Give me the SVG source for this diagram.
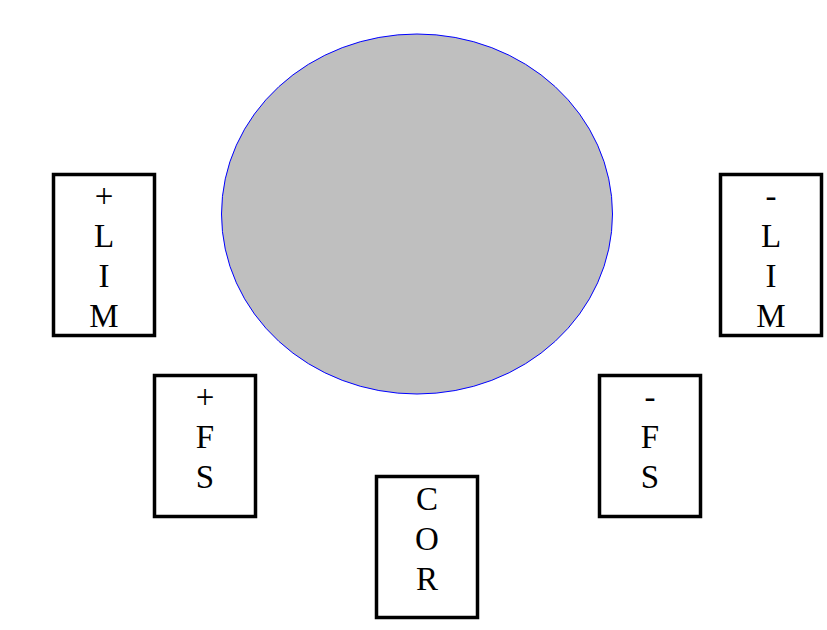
<svg xmlns="http://www.w3.org/2000/svg" width="827" height="630" viewBox="0 0 827 630">
<style>
.box{fill:#fff;stroke:#000;stroke-width:3.5}
.lbl{font-family:"Liberation Serif","Times New Roman",serif;font-size:33px;fill:#000;text-anchor:middle}
</style>
<rect width="827" height="630" fill="#fff"/>
<g id="center">
<ellipse cx="417" cy="214" rx="195.5" ry="180" fill="#bfbfbf" stroke="#0000ff" stroke-width="1"/>
</g>
<g id="connectors"/>
<g id="plus-lim">
<rect class="box" x="53.5" y="174.5" width="101" height="161"/>
<text class="lbl" x="104" y="207"><tspan x="104">+</tspan><tspan x="104" dy="40">L</tspan><tspan x="104" dy="40">I</tspan><tspan x="104" dy="40">M</tspan></text>
</g>
<g id="minus-lim">
<rect class="box" x="720.5" y="174.5" width="101" height="161"/>
<text class="lbl" x="771" y="207"><tspan x="771">-</tspan><tspan x="771" dy="40">L</tspan><tspan x="771" dy="40">I</tspan><tspan x="771" dy="40">M</tspan></text>
</g>
<g id="plus-fs">
<rect class="box" x="154.5" y="375.5" width="101" height="141"/>
<text class="lbl" x="205" y="408"><tspan x="205">+</tspan><tspan x="205" dy="40">F</tspan><tspan x="205" dy="40">S</tspan></text>
</g>
<g id="minus-fs">
<rect class="box" x="599.5" y="375.5" width="101" height="141"/>
<text class="lbl" x="650" y="408"><tspan x="650">-</tspan><tspan x="650" dy="40">F</tspan><tspan x="650" dy="40">S</tspan></text>
</g>
<g id="cor">
<rect class="box" x="376.5" y="476.5" width="101" height="141"/>
<text class="lbl" x="427" y="510"><tspan x="427">C</tspan><tspan x="427" dy="40">O</tspan><tspan x="427" dy="40">R</tspan></text>
</g>
</svg>
